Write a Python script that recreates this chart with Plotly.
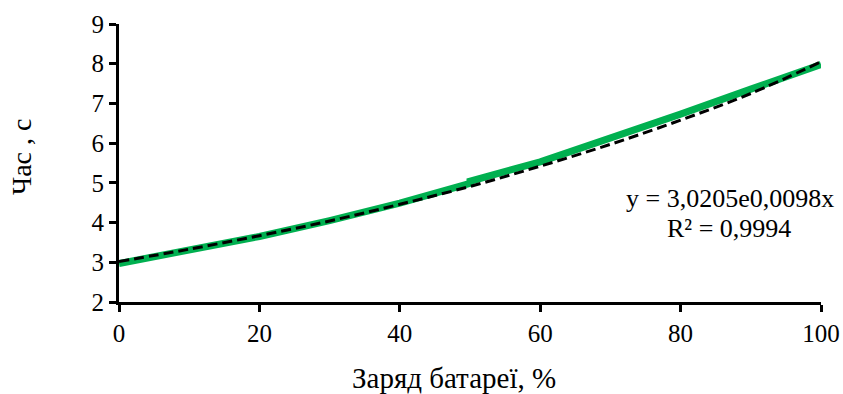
import plotly.graph_objects as go

# Measured data (green line)
charge = [0, 10, 20, 30, 40, 50, 50, 60, 70, 80, 90, 100]
time_s = [2.97, 3.30, 3.65, 4.05, 4.49, 4.99, 5.04, 5.53, 6.11, 6.73, 7.36, 7.98]

# Exponential trendline
trend_x = [0, 10, 20, 30, 40, 50, 60, 70, 80, 90, 100]
trend_y = [3.02, 3.33, 3.67, 4.04, 4.46, 4.91, 5.42, 5.97, 6.58, 7.25, 8.05]

x_ticks = [0, 20, 40, 60, 80, 100]
y_ticks = [2, 3, 4, 5, 6, 7, 8, 9]

FONT = "Liberation Serif"

fig = go.Figure()
fig.add_trace(go.Scatter(x=charge, y=time_s, mode="lines",
                         line=dict(color="#00B050", width=7),
                         showlegend=False, hoverinfo="skip"))
fig.add_trace(go.Scatter(x=trend_x, y=trend_y, mode="lines",
                         line=dict(color="black", width=3, dash="10px,5px", shape="spline"),
                         showlegend=False))

def label(text, x, y, size, angle=0):
    fig.add_annotation(x=x, y=y, xref="paper", yref="paper", xanchor="center",
                       yanchor="middle", textangle=angle, text=text, showarrow=False,
                       font=dict(family=FONT, size=size, color="black"))

label("y = 3,0205e0,0098x", 0.870, 0.374, 26)
label("R² = 0,9994", 0.869, 0.263, 26)
label("Заряд батареї, %", 0.477, -0.272, 29)
label("Час , с", -0.138, 0.522, 28, angle=-90)

fig.update_xaxes(range=[0, 100], tickvals=x_ticks, showgrid=False, zeroline=False,
                 showline=True, linecolor="black", linewidth=3, automargin=False,
                 ticks="outside", ticklen=7, tickwidth=3, tickcolor="black",
                 tickfont=dict(family=FONT, size=25, color="black"))
fig.update_yaxes(range=[2, 9], tickvals=y_ticks, showgrid=False, zeroline=False,
                 showline=True, linecolor="black", linewidth=3, automargin=False,
                 ticks="outside", ticklen=7, tickwidth=3, tickcolor="black",
                 tickfont=dict(family=FONT, size=25, color="black"))

fig.update_layout(width=843, height=394, plot_bgcolor="white", paper_bgcolor="white",
                  margin=dict(l=119, r=22, t=24, b=92))

fig.write_html("out.html", config={"displayModeBar": False},
               post_script="document.body.style.margin='0px';document.body.style.overflow='hidden';")
